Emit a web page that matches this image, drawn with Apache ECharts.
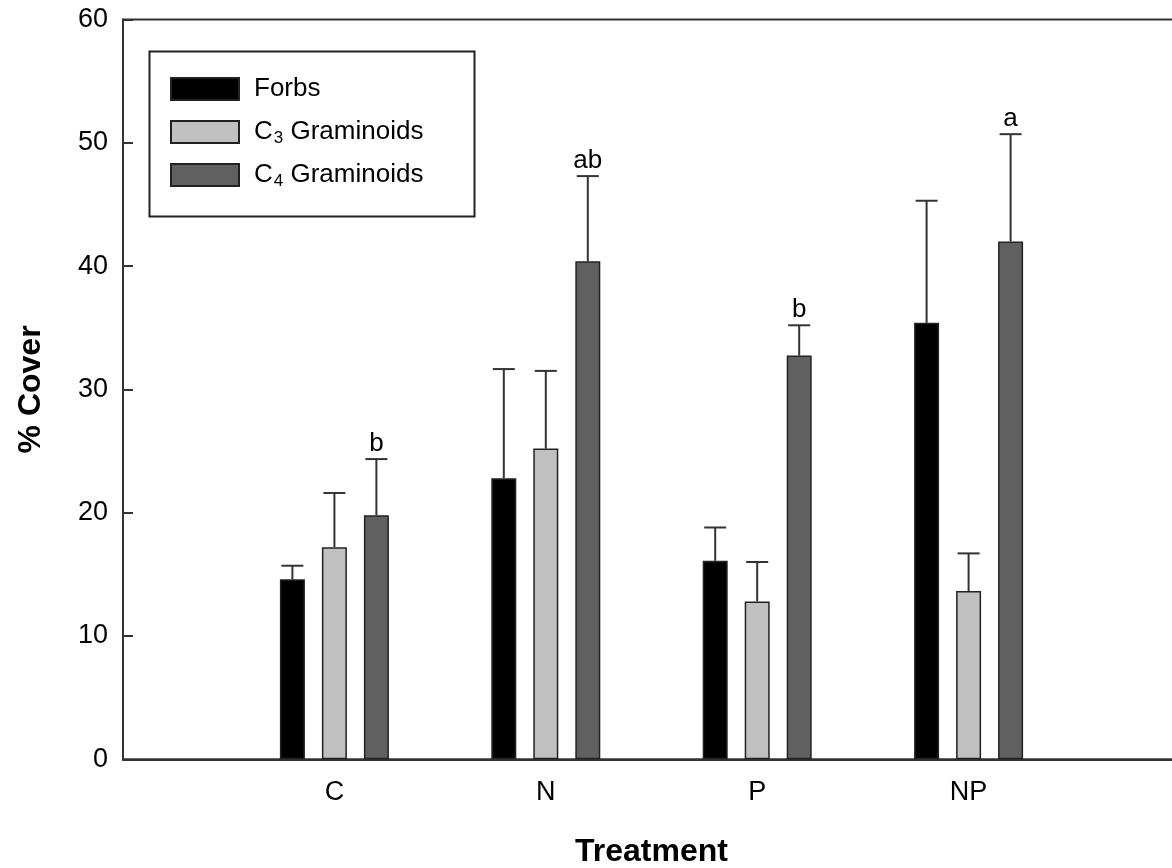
<!DOCTYPE html>
<html>
<head>
<meta charset="utf-8">
<script src="https://cdn.jsdelivr.net/npm/echarts@6/dist/echarts.min.js"></script>
<style>
html,body{margin:0;padding:0;background:#fff;}
#chart{width:1172px;height:868px;}
</style>
</head>
<body>
<div id="chart"></div>
<script>
// ---- data ----
var categories = ['C', 'N', 'P', 'NP'];
var seriesNames = ['Forbs', 'C3 Graminoids', 'C4 Graminoids'];
var forbs = [14.6, 22.8, 16.1, 35.4];
var forbsErr = [1.1, 8.85, 2.7, 9.9];
var c3 = [17.2, 25.2, 12.8, 13.65];
var c3Err = [4.4, 6.3, 3.2, 3.05];
var c4 = [19.8, 40.4, 32.75, 42.0];
var c4Err = [4.55, 6.9, 2.45, 8.7];
var c4Letters = ['b', 'ab', 'b', 'a'];
var yTicks = [0, 10, 20, 30, 40, 50, 60];

// ---- build ----
var FONT = '"Liberation Sans", Arial, sans-serif';
var cats = [''].concat(categories).concat(['']);
function pad(arr) { return ['-'].concat(arr).concat(['-']); }
var colors = ['#000000', '#c0c0c0', '#606060'];
var BAR_W = 25, STEP = 42;

function errData(vals, errs) {
  return vals.map(function (v, i) { return [i + 1, v, errs[i]]; });
}

function errSeries(name, vals, errs, offset, letters) {
  return {
    type: 'custom',
    name: name + ' err',
    z: 5,
    silent: true,
    data: errData(vals, errs),
    encode: { x: 0, y: 1 },
    renderItem: function (params, api) {
      var idx = api.value(0), v = api.value(1), e = api.value(2);
      var p0 = api.coord([idx, v]);
      var p1 = api.coord([idx, v + e]);
      var x = p0[0] + offset;
      var children = [
        { type: 'line', shape: { x1: x, y1: p0[1], x2: x, y2: p1[1] },
          style: { stroke: '#333', lineWidth: 2 } },
        { type: 'line', shape: { x1: x - 11, y1: p1[1], x2: x + 11, y2: p1[1] },
          style: { stroke: '#333', lineWidth: 2 } }
      ];
      var lab = letters ? letters[idx - 1] : '';
      if (lab) {
        children.push({ type: 'text', x: x, y: p1[1] - 2,
          style: { text: lab, fill: '#000', font: '26px ' + FONT, textAlign: 'center', textVerticalAlign: 'bottom' } });
      }
      return { type: 'group', children: children };
    }
  };
}

function barSeries(name, vals, color) {
  return {
    type: 'bar', name: name, data: pad(vals),
    barWidth: BAR_W, barGap: ((STEP - BAR_W) / BAR_W * 100) + '%',
    itemStyle: { color: color, borderColor: '#222', borderWidth: 1.5 },
    z: 3
  };
}

var chart = echarts.init(document.getElementById('chart'));
chart.setOption({
  animation: false,
  backgroundColor: '#fff',
  grid: { left: 123, right: -8, top: 19.5, bottom: 108.7, outerBoundsMode: 'none', containLabel: false,
    show: true, borderColor: '#333', borderWidth: 2, backgroundColor: 'transparent' },
  legend: {
    orient: 'vertical', left: 165, top: 69, padding: 5,
    data: seriesNames,
    icon: 'rect', itemWidth: 68, itemHeight: 22, itemGap: 13,
    selectedMode: false,
    formatter: function (n) {
      var m = n.match(/^C(\d) (.*)$/);
      return m ? 'C{s|' + m[1] + '} ' + m[2] : n;
    },
    textStyle: { fontSize: 26, lineHeight: 30, fontFamily: FONT, color: '#000', padding: [0, 0, 0, 10],
      rich: { s: { fontSize: 17, lineHeight: 17, fontFamily: FONT, color: '#000', padding: [13, 0, 0, 1] } } }
  },
  graphic: [{ type: 'rect', left: 147, top: 49, shape: { width: 325, height: 165 },
    style: { fill: 'none', stroke: '#222', lineWidth: 2 }, z: 10 }],
  xAxis: {
    type: 'category', data: cats, boundaryGap: false,
    axisLine: { lineStyle: { color: '#333', width: 2 } },
    axisTick: { show: false },
    axisLabel: { color: '#000', fontSize: 27, fontFamily: FONT, margin: 20, interval: 0 },
    name: 'Treatment', nameLocation: 'middle', nameGap: 77,
    nameTextStyle: { color: '#000', fontSize: 32, fontWeight: 'bold', fontFamily: FONT },
    splitLine: { show: false }
  },
  yAxis: {
    type: 'value', min: yTicks[0], max: yTicks[yTicks.length - 1], interval: 10,
    axisLine: { show: true, lineStyle: { color: '#333', width: 2 } },
    axisTick: { show: true, inside: true, length: 10, lineStyle: { color: '#333', width: 2 } },
    axisLabel: { color: '#000', fontSize: 27, fontFamily: FONT, margin: 15 },
    splitLine: { show: false },
    name: '% Cover', nameLocation: 'middle', nameGap: 76, nameRotate: 90,
    nameTextStyle: { color: '#000', fontSize: 32, fontWeight: 'bold', fontFamily: FONT }
  },
  series: [
    barSeries(seriesNames[0], forbs, colors[0]),
    barSeries(seriesNames[1], c3, colors[1]),
    barSeries(seriesNames[2], c4, colors[2]),
    errSeries(seriesNames[0], forbs, forbsErr, -STEP, null),
    errSeries(seriesNames[1], c3, c3Err, 0, null),
    errSeries(seriesNames[2], c4, c4Err, STEP, c4Letters)
  ]
});
</script>
</body>
</html>
